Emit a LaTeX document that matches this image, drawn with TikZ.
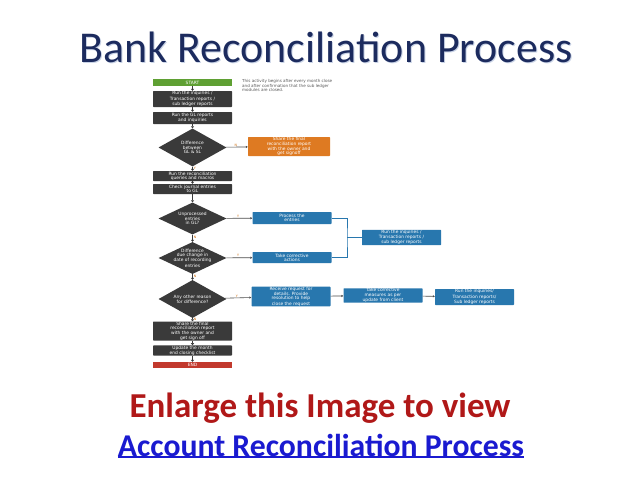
\documentclass[tikz,border=0pt]{standalone}
\usepackage{fontspec}
\setmainfont{Carlito}
\newfontfamily\flowfont{DejaVu Sans}
\usetikzlibrary{shapes.geometric,arrows.meta,calc}
\definecolor{navy}{HTML}{1C2B5E}
\definecolor{glow}{HTML}{C9D3E6}
\definecolor{dkbox}{HTML}{3A3A3A}
\definecolor{grn}{HTML}{5FA033}
\definecolor{org}{HTML}{DE7A22}
\definecolor{blu}{HTML}{2877AE}
\definecolor{redend}{HTML}{C2392D}
\definecolor{darkred}{HTML}{B01818}
\definecolor{linkblue}{HTML}{1A1AD0}
\tikzset{
  flowtxt/.style={font=\flowfont\fontsize{4.4}{4.2}\selectfont, text=white, align=center, inner sep=0.3pt},
  dbox/.style={flowtxt, fill=dkbox, minimum width=79pt, rounded corners=0.6pt},
  obox/.style={flowtxt, fill=org, minimum width=82pt, rounded corners=0.6pt},
  bbox/.style={flowtxt, fill=blu, minimum width=79pt, rounded corners=0.6pt},
  dia/.style={diamond, fill=dkbox, minimum width=68pt, minimum height=38pt, inner sep=0pt},
  diatxt/.style={flowtxt, inner sep=0pt},
  main/.style={draw=dkbox, line width=1.6pt, -{Triangle[length=2pt,width=3pt]}},
  side/.style={draw=gray!60!black, line width=0.6pt, -{Triangle[length=2pt,width=2.2pt]}},
  yn/.style={font=\flowfont\fontsize{3.2}{3.2}\selectfont, text=orange!80!black, inner sep=0.5pt}
}
\begin{document}
\begin{tikzpicture}[x=1pt,y=-1pt]
\useasboundingbox[fill=white] (0,0) rectangle (638,479);
% title
\node[text=glow, font=\fontsize{44}{48}\selectfont] at (327,48.2) {Bank Reconciliation Process};
\node[text=navy, font=\fontsize{44}{48}\selectfont] (title) at (326,47) {Bank Reconciliation Process};
% flowchart main column
\node[flowtxt, fill=grn, minimum width=79pt, minimum height=7pt] (start) at (192.5,82.5) {START};
\node[font=\flowfont\fontsize{4.1}{4.2}\selectfont, text=gray!70!black, align=left, anchor=north west, inner sep=0pt] (note) at (242,79.5) {This activity begins after every month close\\and after confirmation that the sub ledger\\modules are closed.};
\node[dbox, minimum height=16pt] (b1) at (192.5,99) {Run the inquiries /\\Transaction reports /\\sub ledger reports};
\node[dbox, minimum height=12pt] (b2) at (192.5,118) {Run the GL reports\\and inquiries};
\node[dia] (d1) at (192.5,147.5) {};
\node[diatxt] at (d1) {Difference\\between\\GL \& SL};
\node[obox, minimum height=19pt] (o1) at (289,146.5) {Share the final\\reconciliation report\\with the owner and\\get signoff};
\node[dbox, minimum height=10pt] (b3) at (192.5,176) {Run the reconciliation\\queries and macros};
\node[dbox, minimum height=10pt] (b4) at (192.5,189) {Check journal entries\\to GL};
\node[dia, minimum height=32pt] (d2) at (192.5,218.5) {};
\node[diatxt] at (d2) {Unprocessed\\entries\\in GL?};
\node[bbox, minimum height=12pt] (p1) at (292,218) {Process the\\entries};
\node[dia, minimum height=32pt] (d3) at (192.5,258) {};
\node[diatxt] at (d3) {Difference\\due change in\\date of recording\\entries};
\node[bbox, minimum height=11pt] (p2) at (292,257.5) {Take corrective\\actions};
\node[bbox, minimum height=15pt] (p3) at (401.5,237.5) {Run the inquiries /\\Transaction reports /\\sub ledger reports};
\node[dia] (d4) at (192.5,299) {};
\node[diatxt] at (d4) {Any other reason\\for difference?};
\node[bbox, minimum height=17.5pt] (q1) at (291,296.5) {Receive request for\\details. Provide\\resolution to help\\close the request};
\node[bbox, minimum height=13pt] (q2) at (383,295.5) {Take corrective\\measures as per\\update from client};
\node[bbox, minimum height=16pt] (q3) at (474.5,297) {Run the inquiries/\\Transaction reports/\\Sub ledger reports};
\node[dbox, minimum height=19pt] (b5) at (192.5,331) {Share the final\\reconciliation report\\with the owner and\\get sign off};
\node[dbox, minimum height=10pt] (b6) at (192.5,350.5) {Update the month\\end closing checklist};
\node[flowtxt, fill=redend, minimum width=79pt, minimum height=6pt] (end) at (192.5,365) {END};
% connectors
\draw[main] (start) -- (b1);
\draw[main] (b1) -- (b2);
\draw[main] (b2) -- (d1);
\draw[main] (d1) -- node[yn, right, pos=0.4] {Y} (b3);
\draw[side] (d1) -- node[yn, above, pos=0.45] {N} (o1);
\draw[main] (b3) -- (b4);
\draw[main] (b4) -- (d2);
\draw[main] (d2) -- node[yn, right, pos=0.4] {N} (d3);
\draw[side] (d2) -- node[yn, above, pos=0.45] {Y} (p1);
\draw[main] (d3) -- node[yn, right, pos=0.4] {N} (d4);
\draw[side] (d3) -- node[yn, above, pos=0.45] {Y} (p2);
\coordinate (brk) at (347,237.5);
\draw[draw=blu, line width=0.9pt] (p1.east) -| (brk) |- (p2.east);
\draw[draw=blu, line width=0.9pt] (brk) -- (p3.west);
\draw[side] (d4) -- node[yn, above, pos=0.45] {Y} (q1);
\draw[side] (q1) -- (q2);
\draw[side] (q2) -- (q3);
\draw[main] (d4) -- node[yn, right, pos=0.4] {N} (b5);
\draw[main] (b5) -- (b6);
\draw[main] (b6) -- (end);
% bottom text
\node[text=darkred, font=\bfseries\fontsize{35}{38}\selectfont] (enl) at (320,408) {Enlarge this Image to view};
\node[text=linkblue, font=\bfseries\fontsize{31.7}{34}\selectfont, inner sep=0pt] (link) at (321,445) {Account Reconciliation Process};
\draw[linkblue, line width=1.6pt] ($(link.south west)+(0,0.5)$) -- ($(link.south east)+(0,0.5)$);
\end{tikzpicture}
\end{document}
